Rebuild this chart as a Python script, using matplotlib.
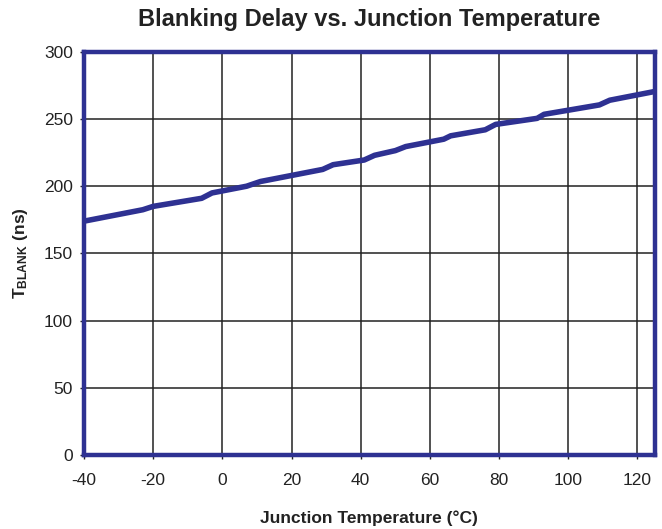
import matplotlib
matplotlib.use("Agg")
import matplotlib.pyplot as plt

# Blanking delay readings
temp_c = [-40, -23, -20, -6, -3, 7, 11, 18, 29, 32, 41, 44, 50, 53, 59, 64, 66,
          76, 79, 91, 93, 109, 112, 125]
t_blank = [174, 182.5, 185, 191, 195, 200, 203.5, 207, 212.5, 216, 219.5, 223,
           226.5, 229.5, 232.5, 235, 237.5, 242, 246, 250.5, 253.5, 260.5, 264, 270.5]

x_ticks = [-40, -20, 0, 20, 40, 60, 80, 100, 120]
y_ticks = [0, 50, 100, 150, 200, 250, 300]

plt.rcParams['font.family'] = ['Liberation Sans', 'DejaVu Sans']
plt.rcParams['axes.unicode_minus'] = False
plt.rcParams['mathtext.fontset'] = 'custom'
plt.rcParams['mathtext.rm'] = 'Liberation Sans'
plt.rcParams['mathtext.bf'] = 'Liberation Sans:bold'

blue = '#2E3192'

fig = plt.figure(figsize=(6.62, 5.29), dpi=100)
ax = fig.add_axes([0.127, 0.140, 0.862, 0.762])

ax.plot(temp_c, t_blank, color=blue, linewidth=4, solid_capstyle='butt', zorder=3)

ax.set_xlim(-40, 125)
ax.set_ylim(0, 300)
ax.set_xticks(x_ticks)
ax.set_yticks(y_ticks)
ax.grid(True, color='#222222', linewidth=1.1)
ax.set_axisbelow(True)

for s in ax.spines.values():
    s.set_color(blue)
    s.set_linewidth(3.2)
    s.set_zorder(4)

ax.tick_params(axis='both', direction='out', length=3, width=1, color='#222222',
               labelsize=12.5, labelcolor='#222222')
ax.tick_params(axis='y', pad=5)
ax.tick_params(axis='x', pad=10)

ax.set_title('Blanking Delay vs. Junction Temperature', fontsize=17,
             fontweight='bold', pad=18.5, color='#222222')
ax.set_xlabel('Junction Temperature (°C)', fontsize=12.5, fontweight='bold',
              labelpad=16, color='#222222')
ax.set_ylabel(r'$\mathbf{T_{BLANK}}$ (ns)', fontsize=12.5, fontweight='bold',
              labelpad=10, color='#222222')

fig.savefig('out.png', dpi=100)
